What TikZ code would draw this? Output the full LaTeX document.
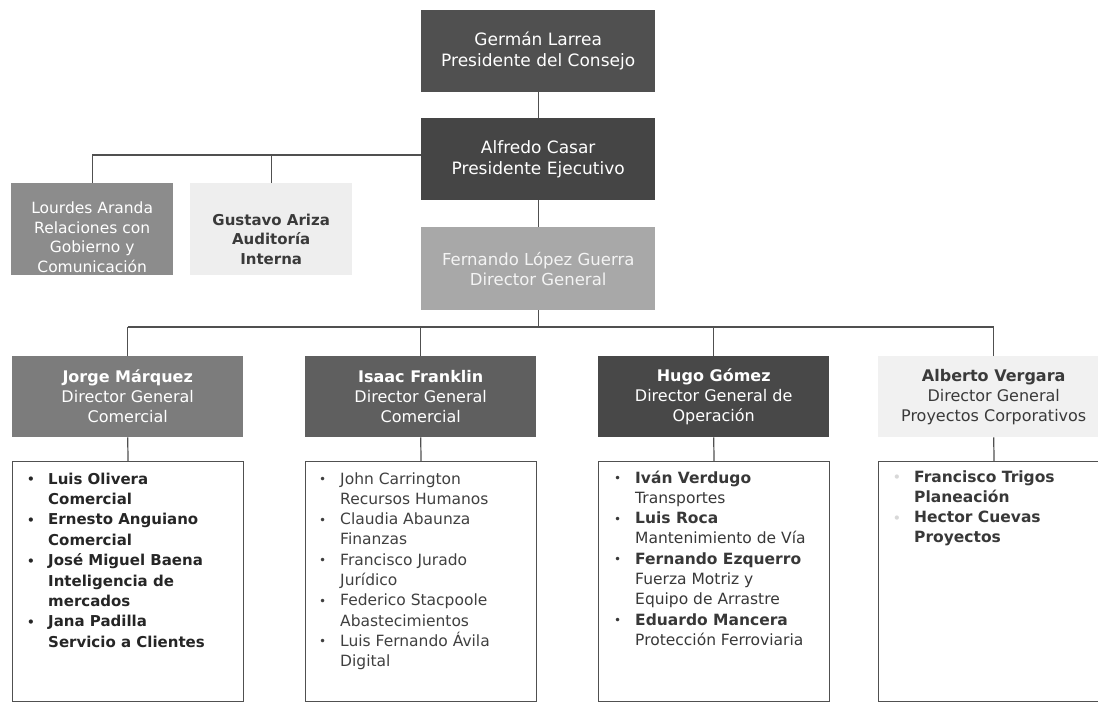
\documentclass[tikz,border=0pt]{standalone}
\usepackage{fontspec}
\setmainfont{DejaVu Sans}
\definecolor{cGerman}{HTML}{505050}
\definecolor{cAlfredo}{HTML}{454545}
\definecolor{cFernando}{HTML}{A8A8A8}
\definecolor{cLourdes}{HTML}{8C8C8C}
\definecolor{cGustavo}{HTML}{EEEEEE}
\definecolor{cJorge}{HTML}{7C7C7C}
\definecolor{cIsaac}{HTML}{5F5F5F}
\definecolor{cHugo}{HTML}{484848}
\definecolor{cAlberto}{HTML}{F1F1F1}
\definecolor{linec}{HTML}{505050}
\definecolor{darktext}{HTML}{3A3A3A}
\definecolor{lighttext}{HTML}{F4F4F4}
\definecolor{faintbullet}{HTML}{D8D8D8}
\newcommand{\orgitem}[1]{\makebox[21pt][l]{\fontsize{12}{12}\selectfont\raisebox{0.5pt}{•}}#1}
\newcommand{\orgcont}[1]{\hspace*{21pt}#1}
\newcommand{\orgfaint}[1]{\makebox[21pt][l]{\fontsize{12}{12}\selectfont\raisebox{0.5pt}{\textcolor{faintbullet}{•}}}#1}
\begin{document}
\begin{tikzpicture}[x=1pt,y=-1pt,
  topbox/.style={rectangle, inner sep=0pt, align=center, minimum width=234pt, minimum height=82pt, text=white, anchor=north west, font=\fontsize{17}{21}\selectfont},
  sidebox/.style={rectangle, inner sep=0pt, minimum width=162pt, minimum height=92pt, anchor=north west},
  dirbox/.style={rectangle, inner sep=0pt, align=center, minimum width=231pt, minimum height=81pt, anchor=north west, font=\fontsize{16}{20}\selectfont},
  listbox/.style={rectangle, draw=linec, line width=1.1pt, fill=white, inner sep=0pt, minimum width=231pt, minimum height=240pt, anchor=north west},
  listtext/.style={anchor=base west, inner sep=0pt},
  conn/.style={draw=linec, line width=1.2pt},
  ]
\useasboundingbox (0,0) rectangle (1098,704);
\fill[white] (0,0) rectangle (1098,704);

% top chain
\node[topbox, fill=cGerman] (german) at (421,10) {Germán Larrea\\Presidente del Consejo};
\node[topbox, fill=cAlfredo] (alfredo) at (421,118) {Alfredo Casar\\Presidente Ejecutivo};
\node[topbox, fill=cFernando, text=lighttext, font=\fontsize{16.5}{20}\selectfont, minimum height=83pt] (fernando) at (421,227) {Fernando López Guerra\\Director General};

% side boxes
\node[sidebox, fill=cLourdes] (lourdes) at (11,183) {};
\node[align=center, inner sep=0pt, text=white, font=\fontsize{15.5}{19.5}\selectfont] (lourdestxt) at ([yshift=-8pt]lourdes.center) {Lourdes Aranda\\Relaciones con\\Gobierno y\\Comunicación};
\node[sidebox, fill=cGustavo] (gustavo) at (190,183) {};
\node[align=center, inner sep=0pt, text=darktext, font=\fontsize{15}{19.5}\selectfont\bfseries] (gustavotxt) at ([yshift=-10pt]gustavo.center) {Gustavo Ariza\\Auditoría\\Interna};

% directors
\node[dirbox, fill=cJorge, text=white] (jorge) at (12,356) {\textbf{Jorge Márquez}\\Director General\\Comercial};
\node[dirbox, fill=cIsaac, text=white] (isaac) at (305,356) {\textbf{Isaac Franklin}\\Director General\\Comercial};
\node[dirbox, fill=cHugo, text=white] (hugo) at (598,356) {\textbf{Hugo Gómez}\\Director General de\\Operación};
\node[dirbox, fill=cAlberto, text=darktext] (alberto) at (878,356) {\textbf{Alberto Vergara}\\Director General\\Proyectos Corporativos};

% list boxes
\node[listbox] (jorgel) at (12,461) {};
\node[listbox] (isaacl) at (305,461) {};
\node[listbox] (hugol) at (598,461) {};
\node[listbox] (albertol) at (878,461) {};

\node[listtext, text=black!85] (jorget) at (27,484) {\parbox[t]{215pt}{\fontsize{15}{20.4}\selectfont\bfseries
\orgitem{Luis Olivera}\\
\orgcont{Comercial}\\
\orgitem{Ernesto Anguiano}\\
\orgcont{Comercial}\\
\orgitem{José Miguel Baena}\\
\orgcont{Inteligencia de}\\
\orgcont{mercados}\\
\orgitem{Jana Padilla}\\
\orgcont{Servicio a Clientes}}};

\node[listtext, text=black!75] (isaact) at (319,484) {\parbox[t]{215pt}{\fontsize{15.5}{20.3}\selectfont
\orgitem{John Carrington}\\
\orgcont{Recursos Humanos}\\
\orgitem{Claudia Abaunza}\\
\orgcont{Finanzas}\\
\orgitem{Francisco Jurado}\\
\orgcont{Jurídico}\\
\orgitem{Federico Stacpoole}\\
\orgcont{Abastecimientos}\\
\orgitem{Luis Fernando Ávila}\\
\orgcont{Digital}}};

\node[listtext, text=black!78] (hugot) at (614,483) {\parbox[t]{215pt}{\fontsize{15.5}{20.3}\selectfont
\orgitem{\textbf{Iván Verdugo}}\\
\orgcont{Transportes}\\
\orgitem{\textbf{Luis Roca}}\\
\orgcont{Mantenimiento de Vía}\\
\orgitem{\textbf{Fernando Ezquerro}}\\
\orgcont{Fuerza Motriz y}\\
\orgcont{Equipo de Arrastre}\\
\orgitem{\textbf{Eduardo Mancera}}\\
\orgcont{Protección Ferroviaria}}};

\node[listtext, text=black!78] (albertot) at (893,482) {\parbox[t]{200pt}{\fontsize{15.5}{20.3}\selectfont\bfseries
\orgfaint{Francisco Trigos}\\
\orgcont{Planeación}\\
\orgfaint{Hector Cuevas}\\
\orgcont{Proyectos}}};

% connectors
\coordinate (hl) at (93,155);
\coordinate (bus) at (129,327);
\draw[conn] (german.south) -- (alfredo.north);
\draw[conn] (alfredo.west |- hl) -| (lourdes.north);
\draw[conn] (gustavo.north) -- (gustavo.north |- hl);
\draw[conn] (alfredo.south) -- (fernando.north);
\draw[conn] (fernando.south) -- (fernando.south |- bus);
\draw[conn] (jorge.north |- bus) -- (alberto.north |- bus);
\foreach \d in {jorge,isaac,hugo,alberto}{
  \draw[conn] (\d.north) -- (\d.north |- bus);
  \draw[conn] (\d.south) -- (\d l.north);
}
\end{tikzpicture}
\end{document}
